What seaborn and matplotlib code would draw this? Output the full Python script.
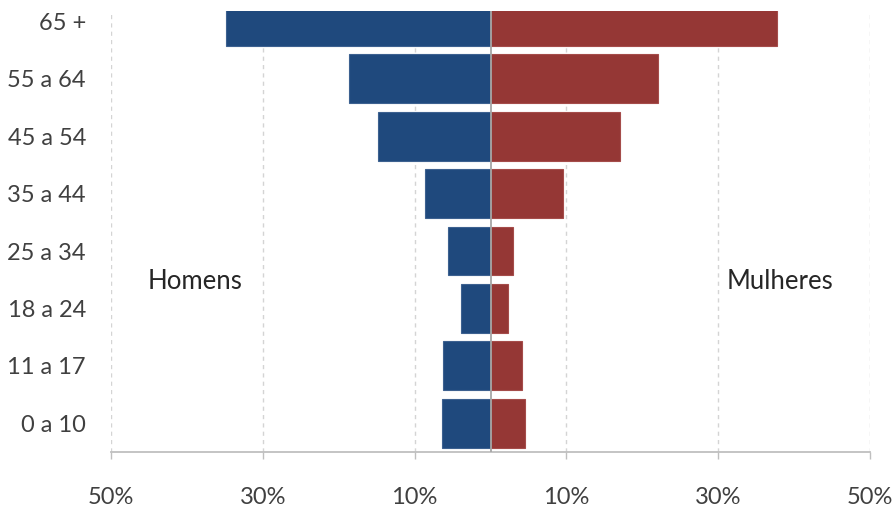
import pandas as pd
import matplotlib
matplotlib.use("Agg")
import matplotlib.pyplot as plt
from matplotlib.ticker import FuncFormatter
import seaborn as sns

# faixas etarias, de cima para baixo
idades = ["65 +", "55 a 64", "45 a 54", "35 a 44", "25 a 34", "18 a 24", "11 a 17", "0 a 10"]
homens = [34.8, 18.6, 14.8, 8.6, 5.6, 3.9, 6.2, 6.4]
mulheres = [37.7, 22.1, 17.1, 9.6, 3.0, 2.3, 4.1, 4.6]
xticks = [-50, -30, -10, 10, 30, 50]

df = pd.DataFrame({
    "idade": idades * 2,
    "valor": [-v for v in homens] + mulheres,
    "sexo": ["Homens"] * len(idades) + ["Mulheres"] * len(idades),
})

sns.set_style("white")
plt.rcParams["font.family"] = ["Lato", "DejaVu Sans"]

fig = plt.figure(figsize=(8.95, 5.08), dpi=100)
ax = fig.add_axes([111 / 895, 56 / 508, 759 / 895, 441 / 508])

sns.barplot(
    data=df, x="valor", y="idade", hue="sexo", order=idades,
    orient="h", dodge=False, width=0.85, legend=False, saturation=1,
    palette={"Homens": "#1f497d", "Mulheres": "#953735"},
    ax=ax, zorder=3,
)
for bar in ax.patches:
    fc = bar.get_facecolor()
    ec = "#3d6190" if fc[2] > 0.4 else "#a54c4a"
    bar.set_edgecolor(ec)
    bar.set_linewidth(0.8)

ax.set_xlim(-50, 50)
ax.set_ylim(7.5, -0.18)
ax.set_xticks(xticks)
ax.xaxis.set_major_formatter(FuncFormatter(lambda v, p: f"{abs(v):.0f}%"))

ax.grid(axis="x", color="#d4d4d4", linestyle=(0, (3, 3)), linewidth=1, zorder=0)
ax.grid(axis="y", visible=False)
ax.axvline(0, color="#a6a6a6", linewidth=1.3, zorder=4)

for s in ["top", "right", "left"]:
    ax.spines[s].set_visible(False)
ax.spines["bottom"].set_color("#bfbfbf")
ax.spines["bottom"].set_linewidth(1.3)

ax.tick_params(axis="x", bottom=True, length=5, width=1, color="#bfbfbf",
               pad=20, labelsize=17, labelcolor="#404040")
ax.tick_params(axis="y", left=False, length=0, pad=18, labelsize=17, labelcolor="#404040")
ax.set_xlabel("")
ax.set_ylabel("")

ax.text(-38.9, 4.53, "Homens", ha="center", va="center", fontsize=18.5, color="#262626")
ax.text(38.1, 4.53, "Mulheres", ha="center", va="center", fontsize=18.5, color="#262626")

fig.savefig("out.png", dpi=100)
